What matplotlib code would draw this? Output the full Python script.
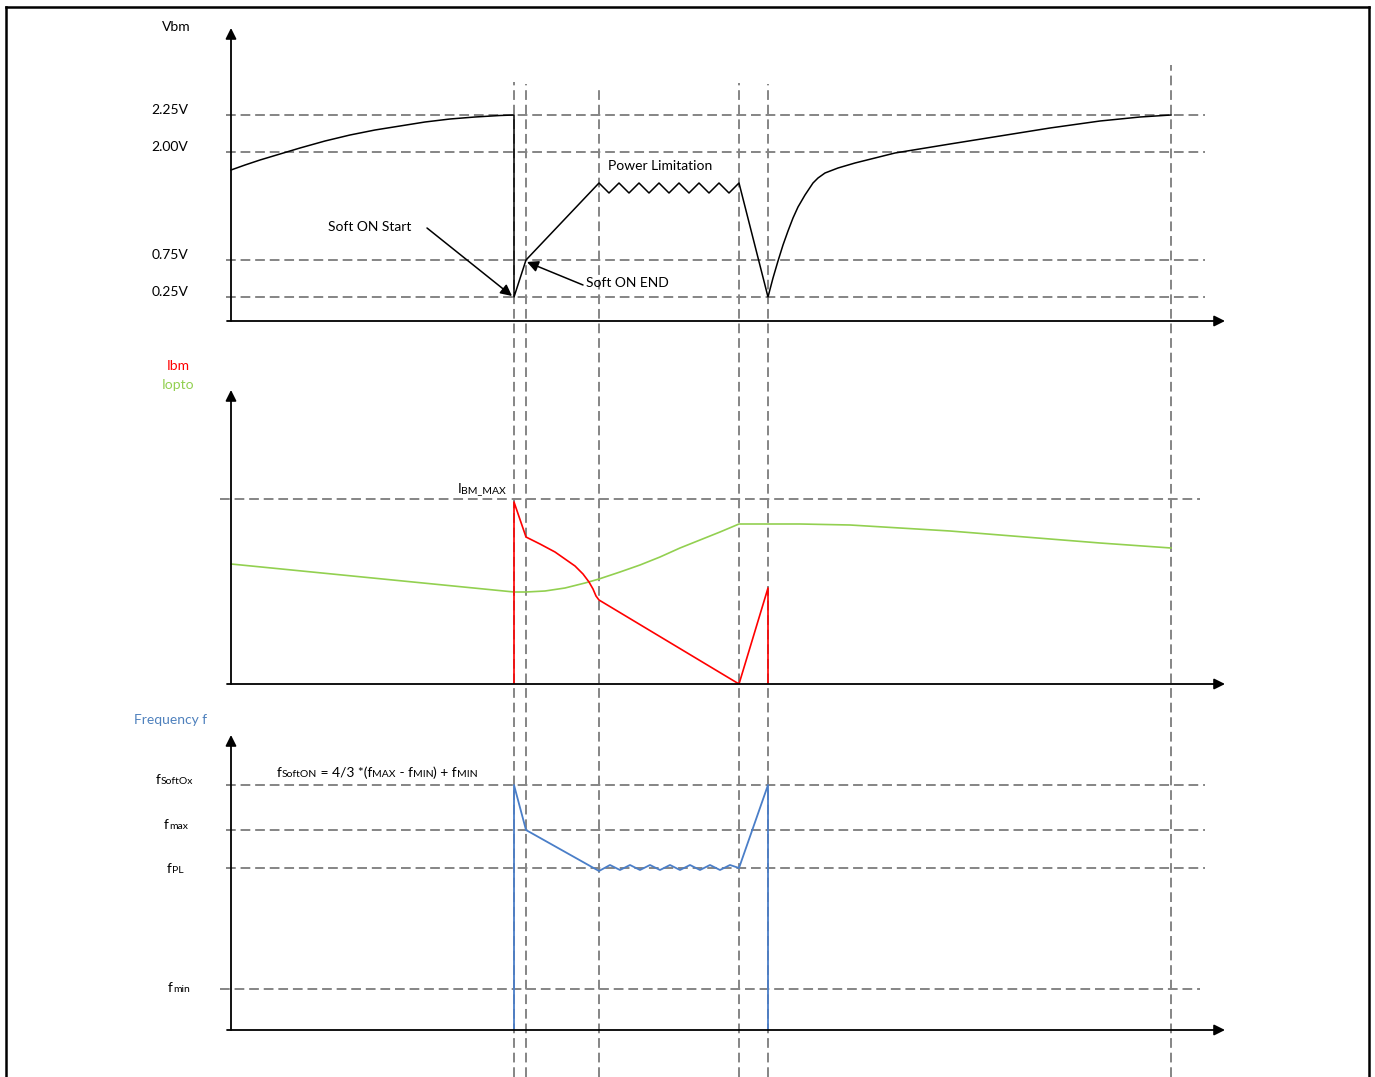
import matplotlib.pyplot as plt
from matplotlib.lines import Line2D
from matplotlib.offsetbox import TextArea, HPacker, AnnotationBbox

plt.rcParams['font.family'] = ['Lato', 'DejaVu Sans']

# event times (schematic time units) and where their dashed markers start (height in overlay units)
t_events = [283, 295, 368, 508, 537, 940]
event_tops = [995, 993, 988, 994, 993, 1012]

# --- Vbm panel ---
vbm_levels = [206, 169, 61, 24]
vbm_labels = ['2.25V', '2.00V', '0.75V', '0.25V']
vbm_t = [0, 14, 29, 49, 69, 94, 119, 144, 169, 194, 219, 244, 269, 283,
         283, 295, 368,
         378, 388, 398, 408, 418, 428, 438, 448, 458, 468, 478, 488, 498, 508,
         537, 542, 547, 552, 557, 562, 567, 574, 582, 587, 594, 607, 624, 644,
         664, 719, 769, 819, 869, 909, 940]
vbm_v = [151, 156, 161, 167, 173, 180, 186, 191, 195, 199, 202, 204, 205.5, 206,
         24, 61, 138,
         128, 138, 128, 138, 128, 138, 128, 138, 128, 138, 128, 138, 128, 138,
         24, 43, 60, 76, 90, 103, 114, 126, 138, 143, 148, 153, 158, 163,
         168, 177, 185, 193, 200, 204, 206]

# --- Ibm / Iopto panel ---
ibm_max = 185
iopto_t = [0, 283, 295, 314, 334, 354, 368, 389, 409, 429, 449, 469, 489, 508,
           537, 569, 619, 669, 719, 769, 819, 869, 940]
iopto_v = [120, 92, 92, 93, 96, 101, 105, 112, 119, 127, 136, 144, 152, 160,
           160, 160, 159, 156, 153, 149, 145, 141, 136]
ibm_t = [283, 283, 295, 309, 324, 334, 344, 352, 358, 362, 365, 368, 508, 537, 537]
ibm_v = [0, 182, 147, 140, 132, 125, 118, 110, 102, 95, 88, 84, 0, 96, 0]

# --- frequency panel ---
f_levels = [245, 200, 162, 41]
f_subs = ['SoftOx', 'max', 'PL', 'min']
f_t = [283, 283, 295, 368,
       379, 389, 399, 409, 419, 429, 439, 449, 459, 469, 479, 489, 499, 508,
       537, 537]
f_v = [0, 245, 200, 159,
       165, 160, 165, 160, 165, 160, 165, 160, 165, 160, 165, 160, 165, 162,
       245, 0]

GRAY = '#858585'
RED = '#FF0000'
GREEN = '#92D050'
BLUE = '#4F81BD'
BLUE_LINE = '#4A7EC8'
FS = 10
FS_SMALL = 7.5

W, H = 1375, 1077
fig = plt.figure(figsize=(W / 100, H / 100), dpi=100)
XL = (-231, 1144)


def panel(base, top):
    ax = fig.add_axes([0, (H - base) / H, 1, (base - top) / H])
    ax.set_xlim(*XL)
    ax.set_ylim(0, base - top)
    ax.axis('off')
    arrow = dict(arrowstyle='-|>', mutation_scale=16, lw=1.3, color='black',
                 shrinkA=0, shrinkB=0)
    ax.annotate('', xy=(0, base - top), xytext=(0, 0), arrowprops=arrow,
                annotation_clip=False)
    ax.annotate('', xy=(994, 0), xytext=(-4, 0), arrowprops=arrow,
                annotation_clip=False)
    return ax


def hdash(ax, y, x0=-5, x1=974):
    ax.plot([x0, x1], [y, y], color=GRAY, lw=1.4, dashes=(5, 2.5), clip_on=False)


def mixed(ax, xy, pieces, color='black', align=(0.5, 0.5)):
    parts = [TextArea(s, textprops=dict(fontsize=fs, color=color)) for s, fs in pieces]
    box = HPacker(children=parts, align='baseline', pad=0, sep=0)
    ab = AnnotationBbox(box, xy, xycoords='data', frameon=False,
                        box_alignment=align, pad=0, annotation_clip=False)
    ax.add_artist(ab)


# overlay for event markers
ov = fig.add_axes([0, 0, 1, 1])
ov.set_xlim(*XL)
ov.set_ylim(0, H)
ov.axis('off')
for t, top in zip(t_events, event_tops):
    ov.plot([t, t], [0, top], color=GRAY, lw=1.4, dashes=(5, 2.5))

# frame
fig.add_artist(Line2D([6 / W, 6 / W], [0, 1 - 7 / H], color='black', lw=1.8))
fig.add_artist(Line2D([6 / W, 1369 / W], [1 - 7 / H, 1 - 7 / H], color='black', lw=1.8))
fig.add_artist(Line2D([1369 / W, 1369 / W], [0, 1 - 7 / H], color='black', lw=1.8))

# ---- panel 1: Vbm ----
ax1 = panel(321, 28)
for lv, lab in zip(vbm_levels, vbm_labels):
    hdash(ax1, lv)
    ax1.text(-61, lv + 5, lab, fontsize=FS, ha='center', va='center')
ax1.text(-55, 294, 'Vbm', fontsize=FS, ha='center', va='center')
ax1.plot(vbm_t, vbm_v, color='black', lw=1.1, clip_on=False)
ax1.text(139, 94, 'Soft ON Start', fontsize=FS, ha='center', va='center')
ax1.annotate('', xy=(281, 25), xytext=(196, 93),
             arrowprops=dict(arrowstyle='-|>', mutation_scale=17, lw=1.1,
                             color='black', shrinkA=0, shrinkB=0))
ax1.text(355, 38, 'Soft ON END', fontsize=FS, ha='left', va='center')
ax1.annotate('', xy=(296, 59), xytext=(352, 36),
             arrowprops=dict(arrowstyle='-|>', mutation_scale=17, lw=1.1,
                             color='black', shrinkA=0, shrinkB=0))
ax1.text(429, 155, 'Power Limitation', fontsize=FS, ha='center', va='center')

# ---- panel 2: Ibm / Iopto ----
ax2 = panel(684, 390)
hdash(ax2, ibm_max, -11, 969)
mixed(ax2, (275, ibm_max + 10), [('I', FS), ('BM_MAX', FS_SMALL)], align=(1, 0.5))
ax2.text(-53, 318, 'Ibm', fontsize=FS, color=RED, ha='center', va='center')
ax2.text(-53, 299, 'Iopto', fontsize=FS, color=GREEN, ha='center', va='center')
ax2.plot(iopto_t, iopto_v, color=GREEN, lw=1.2)
ax2.plot(ibm_t, ibm_v, color=RED, lw=1.2)

# ---- panel 3: frequency ----
ax3 = panel(1030, 735)
f_label_pos = [(-57, 250), (-55, 205), (-56, 161), (-52, 42)]
for lv, sub, xy in zip(f_levels, f_subs, f_label_pos):
    if sub == 'min':
        hdash(ax3, lv, -11, 969)
    else:
        hdash(ax3, lv)
    mixed(ax3, xy, [('f', FS), (sub, FS_SMALL)])
ax3.text(-60, 310, 'Frequency f', fontsize=FS, color=BLUE, ha='center', va='center')
mixed(ax3, (146, 257), [('f', FS), ('SoftON', FS_SMALL), (' = 4/3 *(f', FS),
                         ('MAX', FS_SMALL), (' - f', FS), ('MIN', FS_SMALL),
                         (') + f', FS), ('MIN', FS_SMALL)])
ax3.plot(f_t, f_v, color=BLUE_LINE, lw=1.3)

fig.savefig('out.png', dpi=100)
